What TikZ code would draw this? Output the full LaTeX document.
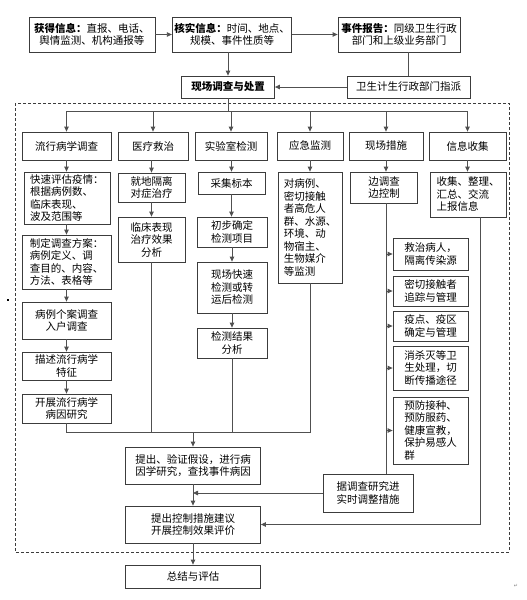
\documentclass[tikz,border=0pt]{standalone}
\usepackage{fontspec}
\setmainfont{Noto Sans CJK SC}
\newfontfamily\symfont{DejaVu Sans}
\usetikzlibrary{arrows.meta,positioning,calc}
\definecolor{framegray}{RGB}{60,60,60}
\definecolor{linegray}{RGB}{80,80,80}

\begin{document}
\begin{tikzpicture}[
    x=1pt,y=-1pt,
    >={Triangle[length=5pt,width=4.5pt]},
    box/.style={draw=framegray,line width=0.8pt,fill=white,inner sep=2pt,
                align=center,font=\fontsize{10.5pt}{12.5pt}\selectfont},
    lbox/.style={box,align=left},
    arr/.style={->,line width=0.8pt,draw=linegray},
    wire/.style={line width=0.8pt,draw=linegray},
  ]
  \useasboundingbox (0,0) rectangle (527,600);

  %% Reporting chain
  \node[box,minimum width=126pt,minimum height=35pt] (info) at (92,34.5)
    {\textbf{获得信息：}直报、电话、\\舆情监测、机构通报等};
  \node[box,minimum width=110pt,minimum height=35pt] (check) at (232,34.5)
    {\textbf{核实信息：}时间、地点、\\规模、事件性质等};
  \node[box,minimum width=122pt,minimum height=35pt] (report) at (399,34.5)
    {\textbf{事件报告：}同级卫生行政\\部门和上级业务部门};
  \node[box,minimum width=93pt,minimum height=22pt] (scene) at (228,87)
    {\textbf{现场调查与处置}};
  \node[box,minimum width=123pt,minimum height=22pt] (assign) at (408.5,87)
    {卫生计生行政部门指派};

  \draw[arr] (info.east) -- (check.west);
  \draw[arr] (check.east) -- (report.west);
  \draw[arr] (scene.north |- check.south) -- (scene.north);
  \draw[wire] (assign.north |- report.south) -- (assign.north);
  \draw[arr] (assign.west) -- (scene.east);

  %% On-site frame
  \draw[framegray,line width=0.8pt,dash pattern=on 3pt off 2pt]
    (15,103) rectangle (509,552);

  %% Six work streams
  \node[box,minimum width=89pt,minimum height=28pt] (epi) at (66.5,146) {流行病学调查};
  \node[box,minimum width=70pt,minimum height=28pt] (med) at (153,146) {医疗救治};
  \node[box,minimum width=72pt,minimum height=28pt] (lab) at (231,146) {实验室检测};
  \node[box,minimum width=66pt,minimum height=28pt] (mon) at (310,146) {应急监测};
  \node[box,minimum width=74pt,minimum height=28pt] (fld) at (386,146) {现场措施};
  \node[box,minimum width=77pt,minimum height=28pt] (inf) at (467.5,146) {信息收集};

  \draw[wire] (scene.south) -- ++(0,13) coordinate (split);
  \draw[wire] (epi.north |- split) -- (inf.north |- split);
  \foreach \n in {epi,med,lab,mon,fld,inf}
    \draw[arr] (\n.north |- split) -- (\n.north);

  %% Epidemiology column
  \node[lbox,minimum width=86pt,minimum height=52pt] (assess) at (67,198)
    {快速评估疫情：\\根据病例数、\\临床表现、\\波及范围等};
  \node[lbox,minimum width=89pt,minimum height=54pt] (plan) at (66.5,262)
    {制定调查方案：\\病例定义、调\\查目的、内容、\\方法、表格等};
  \node[box,minimum width=89pt,minimum height=37pt] (case) at (66.5,320.5)
    {病例个案调查\\入户调查};
  \node[box,minimum width=89pt,minimum height=28pt] (desc) at (66.5,366)
    {描述流行病学\\特征};
  \node[box,minimum width=89pt,minimum height=29pt] (cause) at (66.5,408.5)
    {开展流行病学\\病因研究};

  \draw[arr] (epi.south) -- (epi.south |- assess.north);
  \draw[arr] (epi.south |- assess.south) -- (epi.south |- plan.north);
  \draw[arr] (plan.south) -- (case.north);
  \draw[arr] (case.south) -- (desc.north);
  \draw[arr] (desc.south) -- (cause.north);

  %% Treatment column
  \node[box,minimum width=67pt,minimum height=29pt] (iso) at (151.5,187.5)
    {就地隔离\\对症治疗};
  \node[box,minimum width=67pt,minimum height=45pt] (clin) at (151.5,239.5)
    {临床表现\\治疗效果\\分析};

  \draw[arr] (iso.north |- med.south) -- (iso.north);
  \draw[arr] (iso.south) -- (clin.north);

  %% Laboratory column
  \node[box,minimum width=67pt,minimum height=22pt] (samp) at (231.5,183) {采集标本};
  \node[box,minimum width=70pt,minimum height=30pt] (item) at (232,232)
    {初步确定\\检测项目};
  \node[box,minimum width=70pt,minimum height=51pt] (rapid) at (232,287.5)
    {现场快速\\检测或转\\运后检测};
  \node[box,minimum width=70pt,minimum height=30pt] (result) at (232,343)
    {检测结果\\分析};

  \draw[arr] (samp.north |- lab.south) -- (samp.north);
  \draw[arr] (samp.south) -- (samp.south |- item.north);
  \draw[arr] (item.south) -- (rapid.north);
  \draw[arr] (rapid.south) -- (result.north);

  %% Monitoring column
  \node[lbox,minimum width=64pt,minimum height=111pt] (surv) at (310,227.5)
    {对病例、\\密切接触\\者高危人\\群、水源、\\环境、动\\物宿主、\\生物媒介\\等监测};
  \draw[arr] (mon.south) -- (surv.north);

  %% Field measures column
  \node[box,minimum width=67pt,minimum height=31pt] (ctrl) at (384,187.5)
    {边调查\\边控制};
  \node[lbox,minimum width=75pt,minimum height=32pt] (treat) at (430.5,254)
    {救治病人，\\隔离传染源};
  \node[lbox,minimum width=75pt,minimum height=30pt] (trace) at (430.5,291)
    {密切接触者\\追踪与管理};
  \node[lbox,minimum width=75pt,minimum height=30pt] (zone) at (430.5,326)
    {疫点、疫区\\确定与管理};
  \node[lbox,minimum width=75pt,minimum height=44pt] (disinf) at (430.5,368)
    {消杀灭等卫\\生处理，切\\断传播途径};
  \node[lbox,minimum width=75pt,minimum height=67pt] (prev) at (430.5,430.5)
    {预防接种、\\预防服药、\\健康宣教，\\保护易感人\\群};
  \node[box,minimum width=90pt,minimum height=38pt] (adjust) at (368,493)
    {据调查研究进\\实时调整措施};

  \draw[arr] (fld.south) -- (fld.south |- ctrl.north);
  \coordinate (trunk) at (386,0);
  \draw[wire] (trunk |- ctrl.south) -- (trunk |- adjust.north);
  \foreach \m in {treat,trace,zone,disinf,prev}
    \draw[arr] (trunk |- \m.west) -- (\m.west);

  %% Information column
  \node[lbox,minimum width=76pt,minimum height=45pt] (coll) at (468,194.5)
    {收集、整理、\\汇总、交流\\上报信息};
  \draw[arr] (inf.south) -- (inf.south |- coll.north);

  %% Synthesis
  \node[box,minimum width=135pt,minimum height=37pt] (hyp) at (193,465.5)
    {提出、验证假设，进行病\\因学研究，查找事件病因};
  \node[box,minimum width=135pt,minimum height=37pt] (eval) at (193,524.5)
    {提出控制措施建议\\开展控制效果评价};
  \node[box,minimum width=135pt,minimum height=23pt] (summary) at (193,576.5)
    {总结与评估};

  \coordinate (merge) at (0,432);
  \draw[wire] (cause.south) -- (cause.south |- merge) -- (surv.south |- merge)
    -- (surv.south);
  \draw[wire] (clin.south) -- (clin.south |- merge);
  \draw[wire] (result.south) -- (result.south |- merge);
  \draw[arr] (hyp.north |- merge) -- (hyp.north);

  \draw[arr] (hyp.south) -- (eval.north);
  \draw[arr] (adjust.west) -- (hyp.south |- adjust.west);
  \draw[arr] ([xshift=12pt]coll.south) |- (eval.east);
  \draw[arr] (eval.south) -- (summary.north);

  %% Stray marks
  \node[fill=black,inner sep=0pt,minimum size=2.5pt] (dot) at (8,300) {};
  \node[text=gray,font=\symfont\tiny,inner sep=0pt] (ret) at (516,586) {↵};
\end{tikzpicture}
\end{document}
